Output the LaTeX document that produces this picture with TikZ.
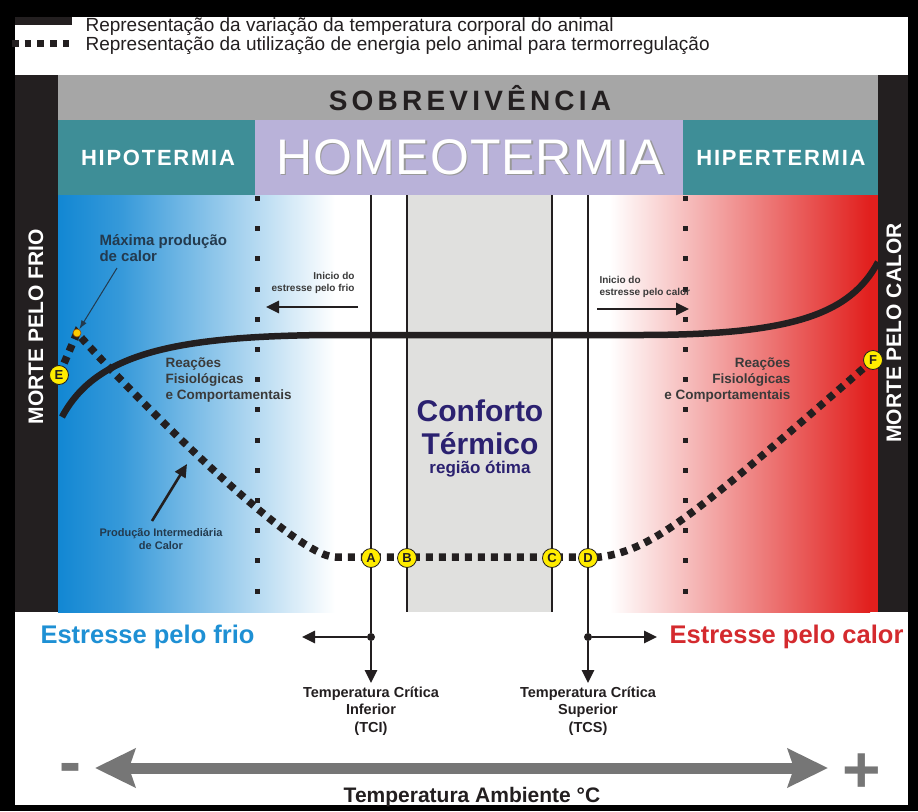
\documentclass[tikz,border=0pt]{standalone}
\usepackage{fontspec}
\setmainfont{Liberation Sans}
\usetikzlibrary{arrows.meta}

\definecolor{quasepreto}{HTML}{231F20}
\definecolor{faixacinza}{HTML}{A6A6A6}
\definecolor{petroleo}{HTML}{3E8E97}
\definecolor{lilas}{HTML}{B9B2D9}
\definecolor{conforto}{HTML}{E0E0DE}
\definecolor{azulfrio}{HTML}{1287D3}
\definecolor{azultexto}{HTML}{1E90D4}
\definecolor{vermelho}{HTML}{E11F1D}
\definecolor{vermelhotexto}{HTML}{D42A2E}
\definecolor{anil}{HTML}{2B2170}
\definecolor{ardosia}{HTML}{233A4E}
\definecolor{amarelo}{HTML}{FFEC00}
\definecolor{setacinza}{HTML}{767676}
\definecolor{textocinza}{HTML}{3A3A3A}

\newcommand{\tam}[2]{\fontsize{#1}{#2}\selectfont}
\newcommand{\sombreado}[1]{\rlap{\hspace{1.5pt}\raisebox{-1.5pt}{\textcolor{gray!80}{#1}}}#1}

\tikzset{
  marca/.style={circle, fill=amarelo, draw=quasepreto, line width=0.8pt, inner sep=0pt,
    minimum size=19pt, font=\bfseries\tam{13}{13}, text=quasepreto},
  temperatura/.style={line width=6.5pt, draw=quasepreto},
  energia/.style={line width=7.5pt, draw=quasepreto, dash pattern=on 7pt off 6pt},
  limite/.style={line width=2.4pt, draw=quasepreto},
  pontos/.style={line width=5pt, draw=quasepreto, dash pattern=on 5pt off 25.2pt},
  seta/.style={line width=2.6pt, draw=quasepreto, -{Triangle[length=13pt,width=12pt]}},
}

\begin{document}
\begin{tikzpicture}[x=1pt,y=-1pt]
    \useasboundingbox (0,0) rectangle (918,811);

    % moldura
    \fill[black] (0,0) rectangle (918,811);
    \fill[white] (15,17) rectangle (908,805);

    % legenda
    \fill[quasepreto] (15,17) rectangle (72,25);
    \draw[line width=7pt, quasepreto, dash pattern=on 6.5pt off 6.2pt] (12,43.5) -- (71,43.5);
    \node[anchor=base west, font=\tam{19}{19}, text=quasepreto] (legenda1) at (82,31) {Representação da variação da temperatura corporal do animal};
    \node[anchor=base west, font=\tam{19}{19}, text=quasepreto] (legenda2) at (82,50) {Representação da utilização de energia pelo animal para termorregulação};

    % faixas do topo
    \fill[faixacinza] (58,75) rectangle (878,120);
    \fill[quasepreto] (15,75) rectangle (58,612);
    \fill[quasepreto] (878,75) rectangle (908,612);
    \fill[petroleo] (58,120) rectangle (255,195);
    \fill[lilas] (255,120) rectangle (683,195);
    \fill[petroleo] (683,120) rectangle (878,195);

    \node[font=\bfseries\tam{28}{28}\addfontfeatures{LetterSpace=15}, text=quasepreto] (sobrev) at (470,98) {SOBREVIVÊNCIA};
    \node[font=\bfseries\tam{22}{22}\addfontfeatures{LetterSpace=8}, text=white] (hipo) at (158,158) {HIPOTERMIA};
    \node[font=\bfseries\tam{22}{22}\addfontfeatures{LetterSpace=8}, text=white] (hiper) at (781,158) {HIPERTERMIA};
    \node[font=\tam{50}{50}\addfontfeatures{LetterSpace=2}, text=white] (homeo) at (470,158) {\sombreado{HOMEOTERMIA}};

    % degrades frio / calor
    \shade[left color=azulfrio, right color=azulfrio!85!white] (58,195) rectangle (120,612);
    \shade[left color=azulfrio!85!white, right color=white] (120,195) rectangle (335,612);
    \shade[left color=white, right color=vermelho] (610,195) rectangle (870,612);
    \fill[vermelho] (869.5,195) rectangle (878,612);
    \fill[conforto] (407,195) rectangle (552,612);

    % pontos e marcas
    \node[circle, fill=quasepreto, inner sep=0pt, minimum size=8pt] (tci) at (371,637) {};
    \node[circle, fill=quasepreto, inner sep=0pt, minimum size=8pt] (tcs) at (588,637) {};
    \coordinate (topoA) at (371,195);
    \coordinate (topoB) at (407,195);
    \coordinate (topoC) at (552,195);
    \coordinate (topoD) at (588,195);
    \coordinate (baseB) at (407,612);
    \coordinate (baseC) at (552,612);
    \coordinate (fimA) at (371,683);
    \coordinate (fimD) at (588,683);
    \coordinate (esqA) at (302,637);
    \coordinate (dirD) at (657,637);

    \draw[limite] (topoA) -- (tci);
    \draw[limite] (topoD) -- (tcs);
    \draw[limite] (topoB) -- (baseB);
    \draw[limite] (topoC) -- (baseC);
    \draw[seta] (tci) -- (fimA);
    \draw[seta] (tcs) -- (fimD);
    \draw[seta] (tci) -- (esqA);
    \draw[seta] (tcs) -- (dirD);

    \draw[pontos] (257,196) -- (257,600);
    \draw[pontos] (685,196) -- (685,600);

    % curva da temperatura corporal
    \draw[temperatura] (62,417) .. controls (95,355) and (170,336) .. (330,335) -- (640,335)
        .. controls (790,335) and (850,315) .. (878,262);

    % curva da energia
    \coordinate (E0) at (59,375);
    \coordinate (maxE) at (77,333);
    \draw[energia] (E0) -- (maxE) .. controls (137,400) and (295,557) .. (335,557) -- (600,557)
        .. controls (655,550) and (700,510) .. (873,360);

    \node[circle, fill=amarelo!70!orange, draw=orange!60!black, line width=0.6pt, inner sep=0pt, minimum size=8pt] (maxcalor) at (maxE) {};
    \node[marca] (A) at (371,558) {A};
    \node[marca] (B) at (407,558) {B};
    \node[marca] (C) at (552,558) {C};
    \node[marca] (D) at (588,558) {D};
    \node[marca] (E) at (E0) {E};
    \node[marca] (F) at (873,360) {F};

    % rotulos
    \node[anchor=west, align=left, text=ardosia, font=\bfseries\tam{15}{16}] (maxlabel) at (96,248) {Máxima produção\\de calor};
    \coordinate (maxseta) at (117,268);
    \draw[ardosia, line width=1pt, -{Latex[length=9pt,width=6pt]}] (maxseta) -- (maxcalor);

    \node[align=center, text=ardosia, font=\bfseries\tam{11}{13}] (intermed) at (161,539) {Produção Intermediária\\de Calor};
    \coordinate (intseta) at (152,521);
    \coordinate (intfim) at (187,464);
    \draw[seta] (intseta) -- (intfim);

    \node[anchor=south east, align=right, text=textocinza, font=\bfseries\tam{10}{11.5}] (iniciofrio) at (358,297) {Inicio do\\estresse pelo frio};
    \coordinate (friofrom) at (358,307);
    \coordinate (friotip) at (266,307);
    \draw[seta] (friofrom) -- (friotip);

    \node[anchor=south west, align=left, text=textocinza, font=\bfseries\tam{10}{11.5}] (iniciocalor) at (596,301) {Inicio do\\estresse pelo calor};
    \coordinate (calorfrom) at (597,309);
    \coordinate (calortip) at (689,309);
    \draw[seta] (calorfrom) -- (calortip);

    \node[anchor=west, align=left, text=textocinza, font=\bfseries\tam{13.5}{16}] (reacoesfrio) at (162,380) {Reações\\Fisiológicas\\e Comportamentais};
    \node[anchor=east, align=right, text=textocinza, font=\bfseries\tam{13.5}{16}] (reacoescalor) at (794,380) {Reações\\Fisiológicas\\e Comportamentais};

    \node[align=center, text=anil, font=\bfseries\tam{30}{33}] (conf) at (480,427) {Conforto\\Térmico};
    \node[text=anil, font=\bfseries\tam{17}{17}] (otima) at (480,469) {região ótima};

    \node[rotate=90, text=white, font=\bfseries\tam{21}{21}] (mfrio) at (36,327) {MORTE PELO FRIO};
    \node[rotate=90, text=white, font=\bfseries\tam{21}{21}] (mcalor) at (894,333) {MORTE PELO CALOR};

    % parte de baixo
    \node[anchor=west, text=azultexto, font=\bfseries\tam{25.5}{25.5}] (estfrio) at (37,637) {Estresse pelo frio};
    \node[anchor=east, text=vermelhotexto, font=\bfseries\tam{25.5}{25.5}] (estcalor) at (907,637) {Estresse pelo calor};

    \node[align=center, text=quasepreto, font=\bfseries\tam{14.5}{17.5}] (rotTCI) at (371,711) {Temperatura Crítica\\Inferior\\(TCI)};
    \node[align=center, text=quasepreto, font=\bfseries\tam{14.5}{17.5}] (rotTCS) at (588,711) {Temperatura Crítica\\Superior\\(TCS)};

    \coordinate (amb1) at (95,768);
    \coordinate (amb2) at (828,768);
    \draw[line width=11pt, setacinza, {Stealth[length=40pt,width=38pt,inset=6pt]}-{Stealth[length=40pt,width=38pt,inset=6pt]}] (amb1) -- (amb2);
    \node[anchor=base, text=setacinza, font=\bfseries\tam{66}{66}] (menos) at (70,784) {-};
    \node[anchor=base, text=setacinza, font=\bfseries\tam{66}{66}] (mais) at (862,792) {+};
    \node[anchor=base, text=quasepreto, font=\bfseries\tam{21}{21}] (amb) at (472,802) {Temperatura Ambiente °C};

\end{tikzpicture}
\end{document}
